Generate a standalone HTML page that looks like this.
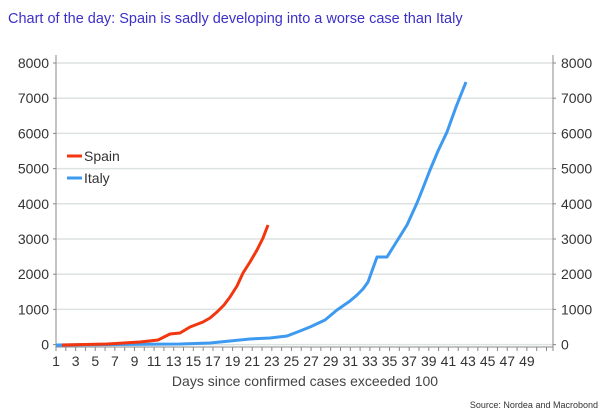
<!DOCTYPE html>
<html><head><meta charset="utf-8"><style>
html,body{margin:0;padding:0;background:#fff;}
svg{display:block;font-family:"Liberation Sans","DejaVu Sans",sans-serif;}
</style></head><body>
<svg width="607" height="420" viewBox="0 0 607 420">
<text x="8" y="23" font-size="14.5" fill="#3b30c8">Chart of the day: Spain is sadly developing into a worse case than Italy</text>
<g stroke="#dde2e2" stroke-width="1.5">
<line x1="56" x2="553" y1="63" y2="63"/><line x1="56" x2="553" y1="98.2" y2="98.2"/>
<line x1="56" x2="553" y1="133.4" y2="133.4"/><line x1="56" x2="553" y1="168.6" y2="168.6"/>
<line x1="56" x2="553" y1="203.8" y2="203.8"/><line x1="56" x2="553" y1="239" y2="239"/>
<line x1="56" x2="553" y1="274.2" y2="274.2"/><line x1="56" x2="553" y1="309.4" y2="309.4"/>
<line x1="56" x2="553" y1="344.6" y2="344.6"/>
</g>
<g stroke="#888" stroke-width="1">
<line x1="56" x2="56" y1="55" y2="351"/><line x1="553" x2="553" y1="55" y2="351"/>
<line x1="56" x2="553" y1="347" y2="347"/>
</g>
<g id="ticks" stroke="#888"></g>
<g font-size="14" fill="#333" id="ylab"></g>
<g font-size="14" fill="#333" text-anchor="middle" id="xlab"></g>
<text x="305" y="386" font-size="14" fill="#444" text-anchor="middle">Days since confirmed cases exceeded 100</text>
<text x="598" y="408" font-size="9" fill="#333" text-anchor="end">Source: Nordea and Macrobond</text>
<polyline fill="none" stroke="#3d9af0" stroke-width="3" stroke-linejoin="round" points="56,345 180,344 210,343 230,341 250,339 270,338 287,336 300,331 310,327 325,320 337,310 350,301 357,295 363,289 368,282 377,257 387,257 397,241 407,225 417,203 423,188 430,170 438,151 447,132 456,107 466,82"/>
<polyline fill="none" stroke="#f2360f" stroke-width="3" stroke-linejoin="round" points="62,345 107,344 140,342 158,340 170,334 180,333 190,327 203,322 210,318 217,312 224,305 230,297 237,286 243,273 250,262 257,250 263,238 268,225"/>
<line x1="67" x2="82" y1="156" y2="156" stroke="#f2360f" stroke-width="3"/>
<text x="84" y="161" font-size="14" fill="#333">Spain</text>
<line x1="67" x2="82" y1="178" y2="178" stroke="#3d9af0" stroke-width="3"/>
<text x="84" y="183" font-size="14" fill="#333">Italy</text>
</svg>
<script>
var ns="http://www.w3.org/2000/svg";
function el(p,t,a,txt){var e=document.createElementNS(ns,t);for(var k in a)e.setAttribute(k,a[k]);if(txt!==undefined)e.textContent=txt;document.getElementById(p).appendChild(e);}
for(var i=0;i<=8;i++){var y=344.6-i*35.2;
el("ylab","text",{x:49,y:y+5,"text-anchor":"end"},String(i*1000));
el("ylab","text",{x:561,y:y+5},String(i*1000));
el("ticks","line",{x1:53,x2:56,y1:y,y2:y});el("ticks","line",{x1:553,x2:556,y1:y,y2:y});}
for(var d=1;d<=51;d++){var x=56+(d-1)*9.81;el("ticks","line",{x1:x,x2:x,y1:347,y2:351});
if(d%2==1&&d<=49)el("xlab","text",{x:x,y:366},String(d));}
</script>
</body></html>
